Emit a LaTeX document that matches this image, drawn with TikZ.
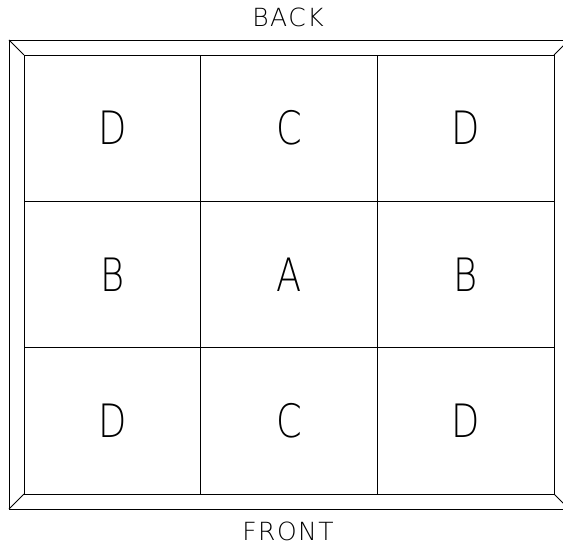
\documentclass[tikz,border=0pt]{standalone}
\usepackage{graphicx}
\usepackage{fontspec}
\newfontfamily\thinsans{DejaVuSans-ExtraLight.ttf}
\usepackage{tikz}

\begin{document}
\begin{tikzpicture}[x=1pt, y=-1pt, line width=0.8pt,
  cell/.style={draw, minimum width=176.67pt, minimum height=146.33pt, inner sep=0pt,
    font=\thinsans\fontsize{46}{46}\selectfont},
  side/.style={font=\thinsans\fontsize{25}{25}\selectfont\addfontfeature{LetterSpace=6}}]
\clip (0,0) rectangle (563,548);
\coordinate (o-nw) at (9,40);   \coordinate (i-nw) at (24,55);
\coordinate (o-ne) at (569,40); \coordinate (i-ne) at (554,55);
\coordinate (o-sw) at (9,509);  \coordinate (i-sw) at (24,494);
\coordinate (o-se) at (569,509);\coordinate (i-se) at (554,494);
\draw (o-nw) rectangle (o-se);
\draw (o-nw) -- (i-nw) (o-ne) -- (i-ne) (o-sw) -- (i-sw) (o-se) -- (i-se);
\foreach \row/\y [count=\r] in {{D,C,D}/128.17, {B,A,B}/274.5, {D,C,D}/420.83}
  \foreach \lbl [count=\c] in \row
    \node[cell] (cell-\r-\c) at ({24+176.67*(\c-0.5)},\y) {\scalebox{0.8}[1]{\lbl}};
\node[side] (back) at (288,17.5) {BACK};
\node[side] (front) at (288,531) {FRONT};
\end{tikzpicture}
\end{document}
